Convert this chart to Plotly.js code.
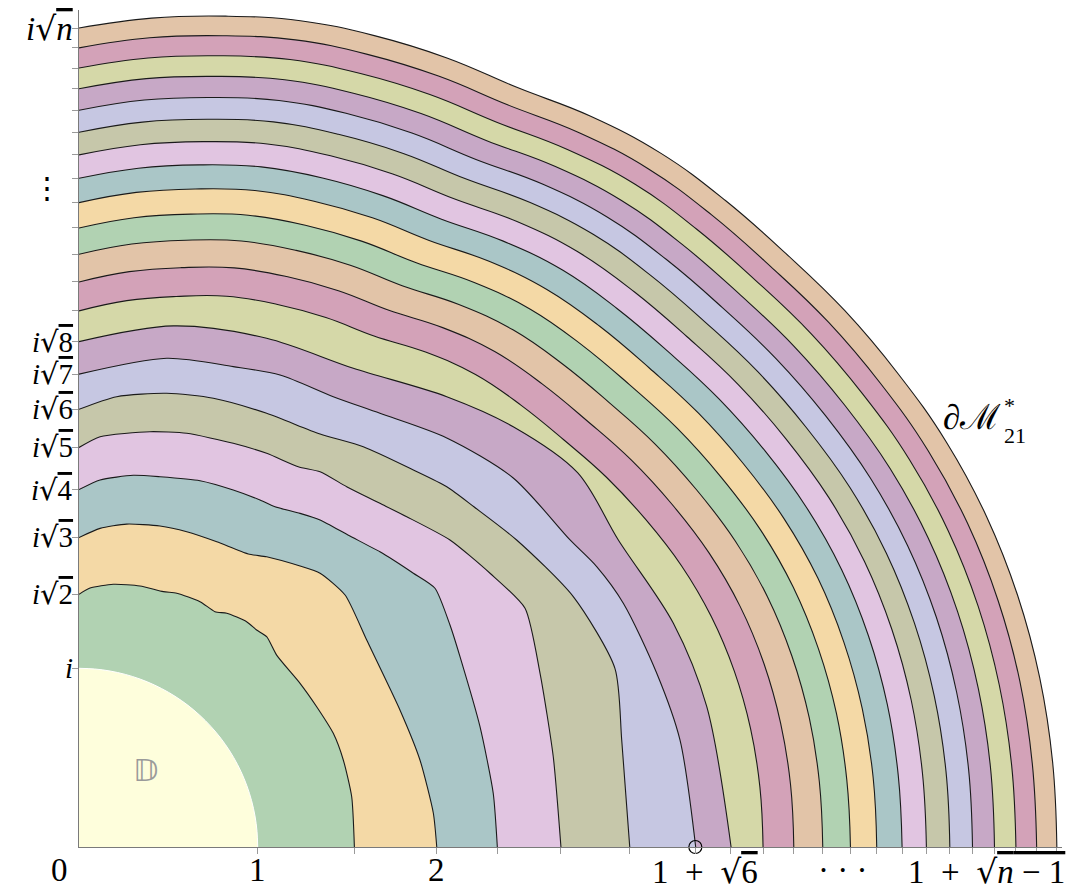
<!DOCTYPE html>
<html>
<head>
<meta charset="utf-8">
<script src="https://cdn.plot.ly/plotly-3.0.1.min.js"></script>
<style>
html,body{margin:0;padding:0;background:#ffffff;}
#chart{width:1072px;height:896px;}
</style>
</head>
<body>
<div id="chart"></div>
<script>
// ---------- data ----------
const diskRadius = 1;
const diskAngles = [90,85,80,75,70,65,60,55,50,45,40,35,30,25,20,15,10,5,0];

// y-axis intercepts (sqrt k), k = 1..21
const yIntercepts = [1, 1.414, 1.732, 2, 2.236, 2.449, 2.646, 2.828, 3, 3.162, 3.317,
  3.464, 3.606, 3.742, 3.873, 4, 4.123, 4.243, 4.359, 4.472, 4.583];
// x-axis intercepts of the boundaries, k = 1..21
const xIntercepts = [1, 1.541, 2.002, 2.341, 2.697, 3.082, 3.449, 3.646, 3.828, 4, 4.162,
  4.317, 4.464, 4.606, 4.742, 4.873, 5, 5.123, 5.243, 5.359, 5.472];

// inner (bumpy) boundaries, read as x / y points
const b2x = [0, 0.062, 0.192, 0.341, 0.472, 0.547, 0.677, 0.761, 0.827, 0.938, 0.994, 1.050, 1.106, 1.237, 1.330, 1.423, 1.479, 1.526, 1.541];
const b2y = [1.414, 1.449, 1.470, 1.461, 1.429, 1.420, 1.373, 1.317, 1.308, 1.261, 1.214, 1.177, 1.074, 0.916, 0.785, 0.636, 0.487, 0.281, 0];
const b3x = [0, 0.118, 0.267, 0.453, 0.603, 0.771, 0.947, 1.050, 1.237, 1.349, 1.489, 1.610, 1.796, 1.908, 1.983, 2.002];
const b3y = [1.732, 1.783, 1.807, 1.796, 1.764, 1.708, 1.640, 1.624, 1.572, 1.532, 1.410, 1.158, 0.767, 0.487, 0.189, 0];
const b4x = [0, 0.118, 0.304, 0.453, 0.677, 0.863, 1.013, 1.097, 1.237, 1.349, 1.505, 1.684, 1.759, 1.871, 1.992, 2.076, 2.132, 2.244, 2.318, 2.341];
const b4y = [2.000, 2.054, 2.080, 2.072, 2.050, 1.998, 1.942, 1.904, 1.867, 1.830, 1.746, 1.652, 1.606, 1.532, 1.448, 1.242, 1.065, 0.673, 0.301, 0];
const b5x = [0, 0.118, 0.397, 0.603, 0.863, 1.050, 1.227, 1.349, 1.498, 1.684, 1.834, 2.076, 2.300, 2.496, 2.580, 2.654, 2.697];
const b5y = [2.236, 2.296, 2.324, 2.315, 2.259, 2.203, 2.128, 2.100, 2.016, 1.923, 1.848, 1.718, 1.532, 1.336, 0.972, 0.505, 0];
const b6x = [0, 0.211, 0.491, 0.752, 1.050, 1.349, 1.591, 1.871, 2.058, 2.210, 2.449, 2.766, 2.999, 3.037, 3.082];
const b6y = [2.449, 2.520, 2.539, 2.511, 2.427, 2.311, 2.240, 2.110, 2.016, 1.904, 1.718, 1.401, 1.000, 0.599, 0];
const b7x = [0, 0.491, 0.863, 1.125, 1.423, 1.684, 2.058, 2.430, 2.748, 2.897, 3.046, 3.233, 3.363, 3.451];
const b7y = [2.646, 2.735, 2.688, 2.641, 2.520, 2.427, 2.289, 2.065, 1.718, 1.569, 1.364, 0.972, 0.599, 0];
const b8x = [0, 0.528, 1.050, 1.535, 2.058, 2.430, 2.790, 3.018, 3.326, 3.513, 3.649];
const b8y = [2.828, 2.916, 2.847, 2.679, 2.520, 2.352, 2.095, 1.718, 1.252, 0.785, 0];

// outer boundaries, read as radius at each polar angle (degrees)
const outerAngles = [90,85,80,75,70,65,60,55,50,45,40,35,30,25,20,15,10,5,0];
const r09 = [3.000,3.069,3.128,3.191,3.232,3.269,3.302,3.381,3.452,3.497,3.543,3.605,3.663,3.721,3.766,3.797,3.816,3.825,3.828];
const r10 = [3.162,3.232,3.292,3.355,3.397,3.435,3.468,3.548,3.619,3.665,3.711,3.774,3.833,3.891,3.937,3.968,3.987,3.997,4.000];
const r11 = [3.317,3.387,3.448,3.511,3.553,3.592,3.625,3.706,3.778,3.824,3.871,3.934,3.993,4.052,4.099,4.130,4.150,4.159,4.162];
const r12 = [3.464,3.535,3.596,3.660,3.703,3.741,3.775,3.856,3.929,3.976,4.023,4.086,4.146,4.206,4.253,4.284,4.304,4.313,4.317];
const r13 = [3.606,3.677,3.739,3.803,3.846,3.885,3.919,4.001,4.073,4.121,4.168,4.232,4.292,4.352,4.400,4.431,4.451,4.461,4.464];
const r14 = [3.742,3.813,3.876,3.940,3.984,4.022,4.057,4.139,4.213,4.260,4.308,4.372,4.433,4.493,4.541,4.573,4.593,4.602,4.606];
const r15 = [3.873,3.945,4.008,4.073,4.116,4.155,4.190,4.273,4.346,4.394,4.442,4.507,4.568,4.629,4.677,4.709,4.729,4.738,4.742];
const r16 = [4.000,4.072,4.135,4.201,4.244,4.284,4.319,4.402,4.476,4.524,4.572,4.637,4.698,4.760,4.808,4.840,4.860,4.870,4.873];
const r17 = [4.123,4.196,4.259,4.325,4.369,4.408,4.443,4.527,4.601,4.649,4.698,4.763,4.825,4.886,4.934,4.967,4.987,4.997,5.000];
const r18 = [4.243,4.316,4.379,4.445,4.489,4.529,4.564,4.648,4.723,4.771,4.819,4.885,4.947,5.009,5.057,5.090,5.110,5.120,5.123];
const r19 = [4.359,4.432,4.496,4.562,4.606,4.646,4.682,4.765,4.841,4.889,4.938,5.004,5.066,5.128,5.176,5.209,5.229,5.239,5.243];
const r20 = [4.472,4.546,4.610,4.676,4.720,4.760,4.796,4.880,4.955,5.004,5.053,5.120,5.182,5.244,5.292,5.325,5.346,5.355,5.359];
const r21 = [4.583,4.656,4.721,4.787,4.832,4.872,4.907,4.992,5.067,5.116,5.165,5.232,5.294,5.357,5.405,5.438,5.459,5.469,5.472];

// band colours (cycle of ten), disk colour
const bandColors = ['#b1d2b2','#f4d9a6','#aac6c7','#e1c5e1','#c6c7aa','#c6c7e2','#c7a8c6','#d5d8a8','#d3a2b8','#e2c4a8'];
const diskColor = '#fefedc';

// tick labels
const yLabelKs = [1,2,3,4,5,6,7,8];
const nLabel = 'n';
const markedBoundary = 7;        // 1 + sqrt(6)
const curveLabel = '∂ℳ';
const curveSup = '*';
const curveSub = '21';

// ---------- build ----------
const deg = Math.PI / 180;
function polar(rs, angs) {
  return { x: rs.map((r,i) => r * Math.cos(angs[i]*deg)), y: rs.map((r,i) => r * Math.sin(angs[i]*deg)) };
}
const boundaries = {};
boundaries[2] = {x:b2x, y:b2y, s:0.6};
boundaries[3] = {x:b3x, y:b3y, s:0.6};
boundaries[4] = {x:b4x, y:b4y, s:0.6};
boundaries[5] = {x:b5x, y:b5y, s:0.6};
boundaries[6] = {x:b6x, y:b6y, s:0.7};
boundaries[7] = {x:b7x, y:b7y, s:0.8};
boundaries[8] = {x:b8x, y:b8y, s:0.9};
const outerR = {9:r09,10:r10,11:r11,12:r12,13:r13,14:r14,15:r15,16:r16,17:r17,18:r18,19:r19,20:r20,21:r21};
for (const k in outerR) { boundaries[k] = polar(outerR[k], outerAngles); boundaries[k].s = 1.2; }

const traces = [];
for (let k = 21; k >= 2; k--) {
  const b = boundaries[k];
  traces.push({
    type:'scatter', mode:'lines', x:b.x, y:b.y,
    fill:'tozeroy', fillcolor: bandColors[(k-2) % 10],
    line:{color:'#1a1a1a', width:1.1, shape:'spline', smoothing:b.s},
    hoverinfo:'skip', showlegend:false
  });
}
const disk = polar(diskAngles.map(() => diskRadius), diskAngles);
traces.push({
  type:'scatter', mode:'lines', x:disk.x, y:disk.y, fill:'tozeroy', fillcolor:diskColor,
  line:{color:'#ffffff', width:1, shape:'spline'}, hoverinfo:'skip', showlegend:false
});
traces.push({
  type:'scatter', mode:'markers', x:[xIntercepts[markedBoundary-1]], y:[0],
  marker:{symbol:'circle-open', size:13, color:'#000', line:{width:1.2, color:'#000'}},
  cliponaxis:false, hoverinfo:'skip', showlegend:false
});

const F = 'Liberation Serif, DejaVu Serif, serif';
const FS = 33, FY = 29;
const NB = '\u00A0';
const ov = s => '<span style="text-decoration:overline">' + s + '</span>';
const rt = '<span style="font-family:DejaVu Serif">√</span>';
const annotations = [];
yLabelKs.forEach(k => {
  annotations.push({
    xref:'x', yref:'y', x:0, y:yIntercepts[k-1], xanchor:'right', yanchor:'middle', xshift:-5, borderpad:0,
    text: k === 1 ? '<i>i</i>' : '<i>i</i>' + rt + ov(String(k)),
    showarrow:false, font:{family:F, size:FY, color:'#000'}
  });
});
annotations.push({xref:'x', yref:'y', x:0, y:yIntercepts[20], xanchor:'right', yanchor:'middle', xshift:-5, borderpad:0,
  text:'<i>i</i>' + rt + ov('<i>' + nLabel + '</i>'), showarrow:false, font:{family:F, size:FS, color:'#000'}});
annotations.push({xref:'x', yref:'y', x:0, y:3.689, xanchor:'center', yanchor:'middle', xshift:-32,
  text:'⋮', showarrow:false, font:{family:'DejaVu Serif', size:30, color:'#000'}});
// x labels
const xl = (x, text, shift, anchor) => annotations.push({xref:'x', yref:'paper', x:x, y:0, xanchor:anchor||'center',
  yanchor:'top', xshift:shift||0, yshift:-3, text:text, showarrow:false, font:{family:F, size:FS, color:'#000'}});
xl(0, '0', -20);
xl(xIntercepts[0], '1');
xl(2, '2');
xl(xIntercepts[markedBoundary-1], '1 ' + NB + '+' + NB + ' ' + rt + ov('6'), 10);
xl(4.27, '· · ·');
xl(xIntercepts[20], '1 ' + NB + '+' + NB + ' ' + rt + ov('<i>n</i> − 1'), 10, 'right');
// region labels
annotations.push({xref:'x', yref:'y', x:0.37, y:0.43, text:'𝔻', showarrow:false,
  font:{family:'DejaVu Sans', size:31, color:'#9a9a9a'}});
annotations.push({xref:'x', yref:'y', x:5.165, y:2.401, xanchor:'right', yanchor:'middle', borderpad:0,
  text:curveLabel, showarrow:false, font:{family:F, size:35, color:'#000'}});
annotations.push({xref:'x', yref:'y', x:5.17, y:2.47, xanchor:'left', yanchor:'middle', text:curveSup, borderpad:0,
  showarrow:false, font:{family:F, size:22, color:'#000'}});
annotations.push({xref:'x', yref:'y', x:5.17, y:2.30, xanchor:'left', yanchor:'middle', text:curveSub, borderpad:0,
  showarrow:false, font:{family:F, size:22, color:'#000'}});

const layout = {
  width:1072, height:896,
  margin:{l:79, r:10, t:10, b:49, pad:0},
  paper_bgcolor:'#ffffff', plot_bgcolor:'#ffffff',
  showlegend:false,
  xaxis:{range:[0, 983/178.7], showgrid:false, zeroline:false, showline:true, linecolor:'#7a7a7a', linewidth:1.4,
    ticks:'outside', ticklen:6, tickwidth:1, tickcolor:'#9a9a9a', tickvals:xIntercepts, showticklabels:false, fixedrange:true},
  yaxis:{range:[0, 837/178.7], showgrid:false, zeroline:false, showline:true, linecolor:'#7a7a7a', linewidth:1.4,
    ticks:'outside', ticklen:6, tickwidth:1, tickcolor:'#9a9a9a', tickvals:yIntercepts, showticklabels:false, fixedrange:true},
  annotations:annotations
};
Plotly.newPlot('chart', traces, layout, {displayModeBar:false, staticPlot:true});
</script>
</body>
</html>
